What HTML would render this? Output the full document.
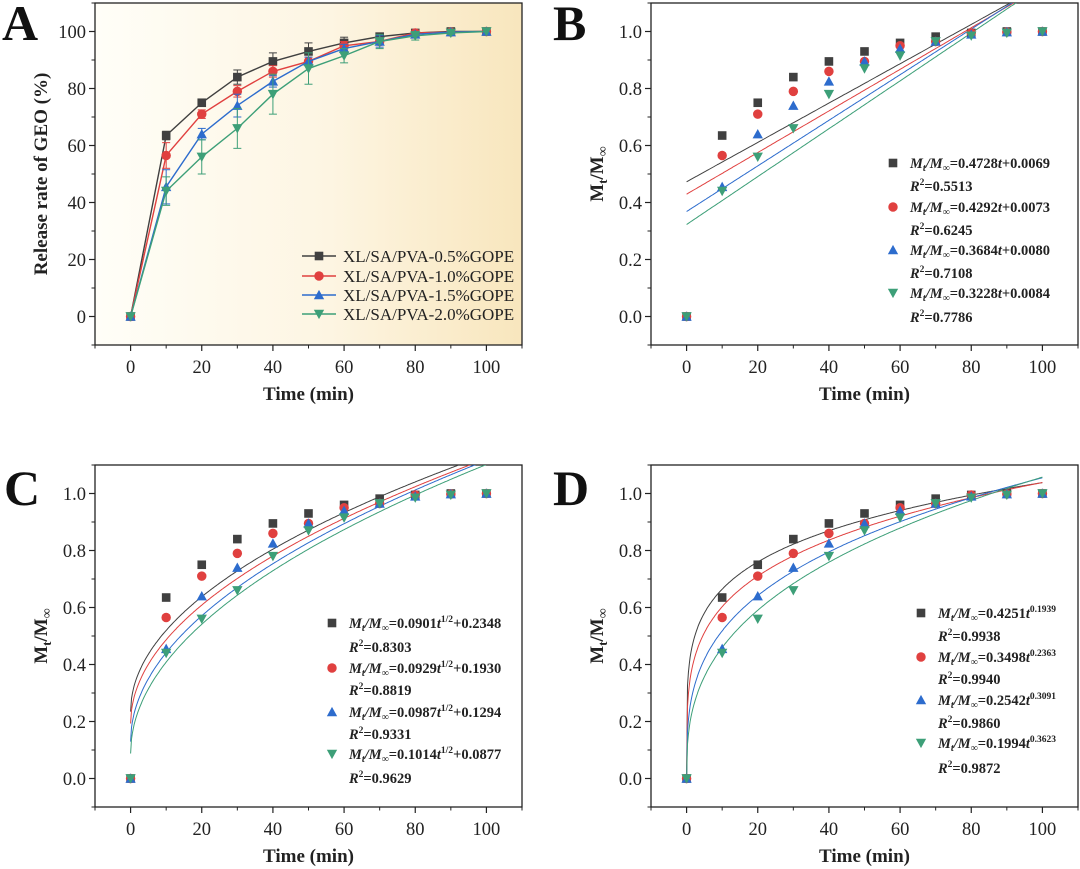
<!DOCTYPE html>
<html><head><meta charset="utf-8">
<style>
html,body{margin:0;padding:0;background:#fff;}
svg{display:block;font-family:"Liberation Serif",serif;}
</style></head>
<body>
<svg id="fig" width="1080" height="869" viewBox="0 0 1080 869" xmlns="http://www.w3.org/2000/svg">
<defs>
<linearGradient id="bgA" x1="0" y1="0" x2="1" y2="0">
<stop offset="0" stop-color="#fffef8"/><stop offset="0.55" stop-color="#fdf5e2"/><stop offset="1" stop-color="#f8e6bd"/>
</linearGradient>
</defs>
</svg>
<script>
const times=[0,10,20,30,40,50,60,70,80,90,100];
const s05=[0,63.5,75,84,89.5,93,96,98.2,99.5,100,100];
const s10=[0,56.5,71,79,86,89.5,95,96.5,99.5,99.8,100];
const s15=[0,45.5,64,74,82.5,89.5,94,96.5,99,99.8,100];
const s20=[0,44,56,66,78,87,91.5,96.5,98.5,99.5,100];
const err05=[0,1.5,1,2.5,3,3,2,1,0.5,0.5,0];
const err10=[0,4.5,1.5,2,2,1.5,1.5,1,0.5,0.5,0];
const err15=[0,6,2,4,2,1.5,1.5,2,1,0.5,0];
const err20=[0,5,6,7,7,5.5,2.5,2.5,1.5,0.5,0];
const seriesNames=["XL/SA/PVA-0.5%GOPE","XL/SA/PVA-1.0%GOPE","XL/SA/PVA-1.5%GOPE","XL/SA/PVA-2.0%GOPE"];
const linA=[0.4728,0.4292,0.3684,0.3228];
const linB=[0.0069,0.0073,0.0080,0.0084];
const linR2=["0.5513","0.6245","0.7108","0.7786"];
const sqA=[0.2348,0.1930,0.1294,0.0877];
const sqK=[0.0901,0.0929,0.0987,0.1014];
const sqR2=["0.8303","0.8819","0.9331","0.9629"];
const pwK=[0.4251,0.3498,0.2542,0.1994];
const pwN=[0.1939,0.2363,0.3091,0.3623];
const pwR2=["0.9938","0.9940","0.9860","0.9872"];
const xTicks=[0,20,40,60,80,100];
const yTicksA=[0,20,40,60,80,100];
const yTicksB=[0,0.2,0.4,0.6,0.8,1.0];

const colors=["#404040","#e0403f","#2d6ccd","#3d9f78"];
const markers=["square","circle","up","down"];
const NS="http://www.w3.org/2000/svg";
const svg=document.getElementById('fig');
function el(tag,attrs,parent,text){const e=document.createElementNS(NS,tag);for(const k in attrs)e.setAttribute(k,attrs[k]);if(text!==undefined)e.textContent=text;(parent||svg).appendChild(e);return e;}

function makeAxes(name,left,right,top,bottom,xmin,xmax,ymin,ymax){
  const g=el('g',{});
  
  
  const sx=v=>left+(v-xmin)/(xmax-xmin)*(right-left);
  const sy=v=>bottom-(v-ymin)/(ymax-ymin)*(bottom-top);
  return {g,sx,sy,left,right,top,bottom};
}
function drawFrame(ax,bg){
  const r=el('rect',{x:ax.left,y:ax.top,width:ax.right-ax.left,height:ax.bottom-ax.top,fill:bg||'#fff',stroke:'#222','stroke-width':1.3},ax.g);
  
  
}
function drawTicks(ax,yt,ystep,fmt,xminor,yminor){
  xTicks.forEach(v=>{
    el('line',{x1:ax.sx(v),x2:ax.sx(v),y1:ax.bottom,y2:ax.bottom+6,stroke:'#222','stroke-width':1.2},ax.g);
    const t=el('text',{x:ax.sx(v),y:ax.bottom+28,'text-anchor':'middle','font-size':18.5,fill:'#222'},ax.g,String(v));
    
    
  });
  xminor.forEach(v=>el('line',{x1:ax.sx(v),x2:ax.sx(v),y1:ax.bottom,y2:ax.bottom+3.5,stroke:'#222','stroke-width':1},ax.g));
  yt.forEach(v=>{
    el('line',{x1:ax.left-6,x2:ax.left,y1:ax.sy(v),y2:ax.sy(v),stroke:'#222','stroke-width':1.2},ax.g);
    const t=el('text',{x:ax.left-9,y:ax.sy(v)+6.5,'text-anchor':'end','font-size':18.5,fill:'#222'},ax.g,fmt(v));
    
    
  });
  yminor.forEach(v=>el('line',{x1:ax.left-3.5,x2:ax.left,y1:ax.sy(v),y2:ax.sy(v),stroke:'#222','stroke-width':1},ax.g));
}
function marker(parent,type,x,y,c,s){
  let m;
  if(type==='square')m=el('rect',{x:x-s,y:y-s,width:2*s,height:2*s,fill:c},parent);
  else if(type==='circle')m=el('circle',{cx:x,cy:y,r:s*1.1,fill:c},parent);
  else if(type==='up')m=el('polygon',{points:`${x},${y-s*1.2} ${x-s*1.2},${y+s} ${x+s*1.2},${y+s}`,fill:c},parent);
  else m=el('polygon',{points:`${x},${y+s*1.2} ${x-s*1.2},${y-s} ${x+s*1.2},${y-s}`,fill:c},parent);
  
  
  return m;
}
function labels(ax,ytitle,letter,lx,ly,isM){
  const cx=(ax.left+ax.right)/2;
  const t=el('text',{x:cx,y:ax.bottom+55,'text-anchor':'middle','font-size':19,'font-weight':'bold',fill:'#222'},ax.g,'Time (min)');
  
  
  const yc=(ax.top+ax.bottom)/2;
  const tx=ax.left-48;
  const yt=el('text',{x:tx,y:yc,'text-anchor':'middle','font-size':19,'font-weight':'bold',fill:'#222',transform:`rotate(-90 ${tx} ${yc})`},ax.g);
  if(isM){
    el('tspan',{},yt,'M');el('tspan',{'font-size':13,dy:4},yt,'t');el('tspan',{dy:-4},yt,'/M');el('tspan',{'font-size':14,dy:4,'font-weight':'normal'},yt,'∞');
  } else yt.textContent=ytitle;
  
  
  const L=el('text',{x:lx,y:ly,'font-size':50,'font-weight':'bold',fill:'#111'},svg,letter);
  
  
}
const allS=[s05,s10,s15,s20];
const allE=[err05,err10,err15,err20];

// Panel A
(function(){
  const ax=makeAxes('panel-a',95,522,3,345,-10,110,-10,110);
  drawFrame(ax,'url(#bgA)');
  drawTicks(ax,yTicksA,20,v=>String(v),[-10,10,30,50,70,90,110],[-10,10,30,50,70,90,110]);
  for(let i=0;i<4;i++){
    const c=colors[i];
    const sg=el('g',{},ax.g);
    
    
    times.forEach((t,j)=>{
      const e=allE[i][j];if(!e)return;
      const x=ax.sx(t);
      el('line',{x1:x,x2:x,y1:ax.sy(allS[i][j]-e),y2:ax.sy(allS[i][j]+e),stroke:c,'stroke-width':1},sg);
      el('line',{x1:x-4,x2:x+4,y1:ax.sy(allS[i][j]-e),y2:ax.sy(allS[i][j]-e),stroke:c,'stroke-width':1},sg);
      el('line',{x1:x-4,x2:x+4,y1:ax.sy(allS[i][j]+e),y2:ax.sy(allS[i][j]+e),stroke:c,'stroke-width':1},sg);
    });
    el('polyline',{points:times.map((t,j)=>ax.sx(t)+','+ax.sy(allS[i][j])).join(' '),fill:'none',stroke:c,'stroke-width':1.4},sg);
    times.forEach((t,j)=>marker(sg,markers[i],ax.sx(t),ax.sy(allS[i][j]),c,4.3));
  }
  const lg=el('g',{},ax.g);
  
  
  const rows=[256,276,295,314];
  seriesNames.forEach((n,i)=>{
    el('line',{x1:302,x2:336,y1:rows[i],y2:rows[i],stroke:colors[i],'stroke-width':1.5},lg);
    marker(lg,markers[i],319,rows[i],colors[i],4.3);
    const t=el('text',{x:343,y:rows[i]+6,'font-size':17,fill:'#222'},lg,n);
    
    
  });
  labels(ax,'Release rate of GEO (%)','A',2,40,false);
})();

function fitPanel(name,left,top,letter,lx,ly,fn,eqs,r2s,legX,legRows){
  const ax=makeAxes(name,left,left+427,top,top+342,-10,110,-0.1,1.1);
  drawFrame(ax,'#fff');
  drawTicks(ax,yTicksB,0.2,v=>v.toFixed(1),[-10,10,30,50,70,90,110],[-0.1,0.1,0.3,0.5,0.7,0.9,1.1]);
  const clip=el('clipPath',{id:'clip-'+name},ax.g);
  el('rect',{x:ax.left,y:ax.top,width:ax.right-ax.left,height:ax.bottom-ax.top},clip);
  for(let i=0;i<4;i++){
    const pts=[];
    for(let k=0;k<=400;k++){const t=k*100/400;pts.push(ax.sx(t).toFixed(1)+','+ax.sy(fn(i,t)).toFixed(1));}
    const p=el('polyline',{points:pts.join(' '),fill:'none',stroke:colors[i],'stroke-width':1,'clip-path':`url(#clip-${name})`},ax.g);
    
    
  }
  for(let i=0;i<4;i++){
    const sg=el('g',{},ax.g);
    
    
    times.forEach((t,j)=>marker(sg,markers[i],ax.sx(t),ax.sy(allS[i][j]/100),colors[i],4.3));
  }
  const lg=el('g',{},ax.g);
  
  
  for(let i=0;i<4;i++){
    const y1=legRows[2*i],y2=legRows[2*i+1];
    marker(lg,markers[i],legX,y1,colors[i],4.3);
    const t=el('text',{x:legX+17,y:y1+5,'font-size':14.5,'font-weight':'bold',fill:'#222'},lg);
    eqs(i,t);
    
    
    const r=el('text',{x:legX+17,y:y2+5,'font-size':14.5,'font-weight':'bold',fill:'#222'},lg);
    el('tspan',{'font-style':'italic'},r,'R');el('tspan',{'font-size':9.5,dy:-6},r,'2');el('tspan',{dy:6},r,'='+r2s[i]);
    
    
  }
  labels(ax,'','' +letter,lx,ly,true);
}
function mPrefix(t){
  el('tspan',{'font-style':'italic'},t,'M');el('tspan',{'font-style':'italic','font-size':10,dy:3},t,'t');
  el('tspan',{'font-style':'italic',dy:-3},t,'/M');el('tspan',{'font-style':'italic','font-size':10,dy:3},t,'∞');
  el('tspan',{dy:-3},t,'=');
}
fitPanel('panel-b',651,3,'B',553,40,(i,t)=>linA[i]+linB[i]*t,(i,t)=>{mPrefix(t);el('tspan',{},t,linA[i].toFixed(4));el('tspan',{'font-style':'italic'},t,'t');el('tspan',{},t,'+'+linB[i].toFixed(4));},linR2,893,[163,186,207,230,250,273,293,317]);
fitPanel('panel-c',95,465,'C',4,505,(i,t)=>sqA[i]+sqK[i]*Math.sqrt(t),(i,t)=>{mPrefix(t);el('tspan',{},t,sqK[i].toFixed(4));el('tspan',{'font-style':'italic'},t,'t');el('tspan',{'font-size':9.5,dy:-6},t,'1/2');el('tspan',{dy:6},t,'+'+sqA[i].toFixed(4));},sqR2,332,[623,647,668,690,712,734,754,778]);
fitPanel('panel-d',651,465,'D',553,505,(i,t)=>pwK[i]*Math.pow(t,pwN[i]),(i,t)=>{mPrefix(t);el('tspan',{},t,pwK[i].toFixed(4));el('tspan',{'font-style':'italic'},t,'t');el('tspan',{'font-size':9.5,dy:-6},t,pwN[i].toFixed(4));},pwR2,921,[613,636,657,679,700,723,743,768]);
</script>
</body></html>
